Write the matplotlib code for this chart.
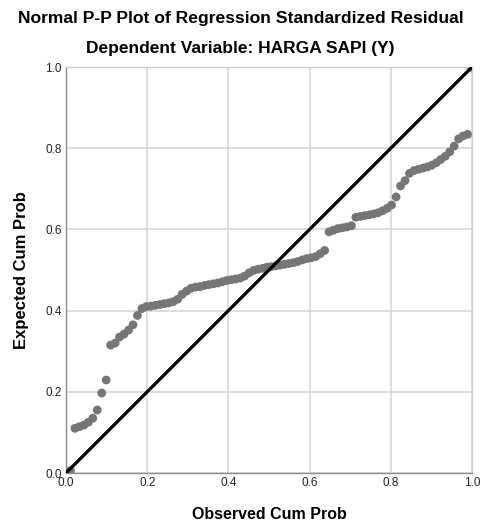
import matplotlib
matplotlib.use("Agg")
import matplotlib.pyplot as plt

plt.rcParams['font.family'] = ['Liberation Sans', 'DejaVu Sans']

# observed vs expected cumulative probabilities
observed = [0.005, 0.011, 0.022, 0.033, 0.044, 0.055, 0.066, 0.077, 0.088, 0.099, 0.110,
            0.121, 0.132, 0.143, 0.154, 0.165, 0.176, 0.187, 0.198, 0.209, 0.220,
            0.231, 0.242, 0.253, 0.264, 0.275, 0.286, 0.297, 0.308, 0.319, 0.330,
            0.341, 0.352, 0.363, 0.374, 0.385, 0.396, 0.407, 0.418, 0.429, 0.440,
            0.451, 0.462, 0.473, 0.484, 0.495, 0.505, 0.516, 0.527, 0.538, 0.549,
            0.560, 0.571, 0.582, 0.593, 0.604, 0.615, 0.626, 0.637, 0.648, 0.659,
            0.670, 0.681, 0.692, 0.703, 0.714, 0.725, 0.736, 0.747, 0.758, 0.769,
            0.780, 0.791, 0.802, 0.813, 0.824, 0.835, 0.846, 0.857, 0.868, 0.879,
            0.890, 0.901, 0.912, 0.923, 0.934, 0.945, 0.956, 0.967, 0.978, 0.989, 0.997]
expected = [0.003, 0.006, 0.110, 0.114, 0.118, 0.125, 0.135, 0.155, 0.197, 0.229, 0.315,
            0.320, 0.335, 0.342, 0.352, 0.365, 0.388, 0.405, 0.410, 0.411, 0.413,
            0.415, 0.417, 0.419, 0.422, 0.428, 0.440, 0.448, 0.455, 0.458, 0.459,
            0.462, 0.464, 0.466, 0.468, 0.471, 0.474, 0.476, 0.478, 0.480, 0.485,
            0.493, 0.499, 0.502, 0.504, 0.507, 0.508, 0.510, 0.512, 0.514, 0.516,
            0.518, 0.521, 0.525, 0.528, 0.530, 0.533, 0.540, 0.548, 0.594, 0.598,
            0.602, 0.604, 0.606, 0.609, 0.630, 0.632, 0.634, 0.636, 0.638, 0.641,
            0.646, 0.652, 0.660, 0.680, 0.707, 0.720, 0.738, 0.745, 0.748, 0.751,
            0.754, 0.758, 0.764, 0.772, 0.780, 0.791, 0.805, 0.823, 0.830, 0.834, 0.999]
ticks = [0.0, 0.2, 0.4, 0.6, 0.8, 1.0]
tick_labels = ['0.0', '0.2', '0.4', '0.6', '0.8', '1.0']

fig = plt.figure(figsize=(4.81, 5.27), dpi=100)
ax = fig.add_axes([66/481, 1 - 473/527, 406/481, 406/527])

ax.scatter(observed, expected, s=40, color='#767676', edgecolors='none', zorder=2)
ax.plot([0, 1], [0, 1], color='black', lw=2.3, zorder=3, solid_capstyle='butt')

ax.set_xlim(0, 1)
ax.set_ylim(0, 1)
ax.set_xticks(ticks)
ax.set_yticks(ticks)
ax.set_xticklabels(tick_labels)
ax.set_yticklabels(tick_labels)
ax.tick_params(length=0, labelsize=8.5, labelcolor='#222222', pad=3)
ax.grid(True, color='#d4d4d4', lw=1.1, zorder=0)
ax.set_axisbelow(True)
for side in ['top', 'right']:
    ax.spines[side].set_color('#cfcfcf')
for side in ['left', 'bottom']:
    ax.spines[side].set_color('#8c8c8c')
for sp in ax.spines.values():
    sp.set_linewidth(1.0)

ax.set_xlabel('Observed Cum Prob', fontsize=11.5, fontweight='bold', labelpad=13)
ax.set_ylabel('Expected Cum Prob', fontsize=12, fontweight='bold', labelpad=12)

fig.text(0.5, 1 - 18/527, 'Normal P-P Plot of Regression Standardized Residual',
         ha='center', va='center', fontsize=12.6, fontweight='bold')
fig.text(0.5, 1 - 48/527, 'Dependent Variable: HARGA SAPI (Y)',
         ha='center', va='center', fontsize=12.5, fontweight='bold')

fig.savefig('out.png', dpi=100)
